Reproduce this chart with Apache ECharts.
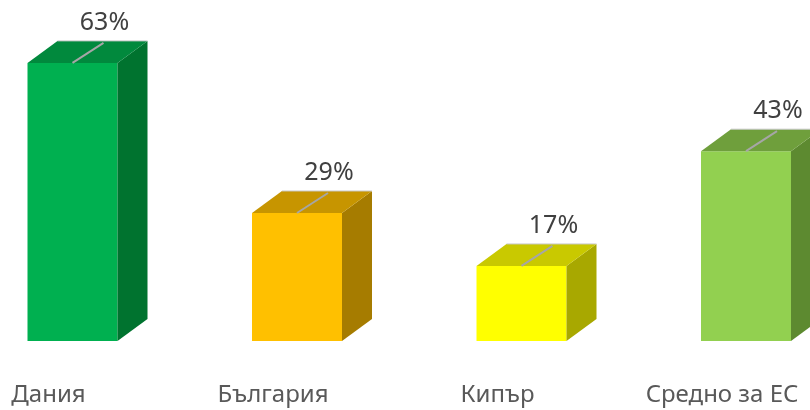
<!DOCTYPE html>
<html>
<head>
<meta charset="utf-8">
<script src="https://cdn.jsdelivr.net/npm/echarts@6/dist/echarts.min.js"></script>
<style>
  html, body { margin: 0; padding: 0; background: #fff; }
  #chart { width: 810px; height: 410px; }
</style>
</head>
<body>
<div id="chart"></div>
<script>
var categories = ['Дания', 'България', 'Кипър', 'Средно за ЕС'];
var values = [63, 29, 17, 43];

var frontColors = ['#00b050', '#ffc000', '#ffff00', '#92d050'];
var topColors = ['#01893d', '#c79500', '#c9c900', '#6f9f3c'];
var sideColors = ['#00732f', '#a67c00', '#a8a800', '#5d8a30'];

(function() {
  var chart = echarts.init(document.getElementById('chart'));
  var FONT = '"Noto Sans", "Open Sans", sans-serif';
  // 3d box geometry (px)
  var shift = 24, width = 90, dx = 30, dy = 22;

  function renderBox(params, api) {
    var i = api.value(0);
    var top = api.coord([i, api.value(1)]);
    var base = api.coord([i, 0]);
    var cx = top[0] + shift;
    var L = cx - width / 2, R = cx + width / 2;
    var t = top[1], b = base[1];
    return {
      type: 'group',
      children: [
        { type: 'polygon', shape: { points: [[L, t], [R, t], [R, b], [L, b]] },
          style: { fill: frontColors[i] } },
        { type: 'polygon', shape: { points: [[R, t], [R + dx, t - dy], [R + dx, b - dy], [R, b]] },
          style: { fill: sideColors[i] } },
        { type: 'polygon', shape: { points: [[L, t], [L + dx, t - dy], [R + dx, t - dy], [R, t]] },
          style: { fill: topColors[i] } },
        { type: 'line', shape: { x1: L + dx, y1: t - dy, x2: R + dx, y2: t - dy },
          style: { stroke: '#c8c8c8', lineWidth: 1 } },
        { type: 'line', shape: { x1: cx, y1: t, x2: cx + 31, y2: t - 20 },
          style: { stroke: '#a6a6a6', lineWidth: 2 } },
        { type: 'text', x: cx + 32, y: t - 40,
          style: { text: api.value(1) + '%', fill: '#404040', font: '25px ' + FONT,
                   align: 'center', verticalAlign: 'middle' } }
      ]
    };
  }

  var option = {
    animation: false,
    grid: { left: 48.5, right: 88, top: 32, bottom: 69 },
    xAxis: {
      type: 'category',
      boundaryGap: false,
      data: categories,
      axisLine: { show: false },
      axisTick: { show: false },
      axisLabel: { color: '#595959', fontSize: 24, fontFamily: FONT, margin: 42 }
    },
    yAxis: {
      type: 'value',
      min: 0,
      max: 70,
      show: false
    },
    series: [{
      type: 'custom',
      renderItem: renderBox,
      clip: false,
      data: values.map(function(v, i) { return [i, v]; })
    }]
  };
  chart.setOption(option);
})();
</script>
</body>
</html>
